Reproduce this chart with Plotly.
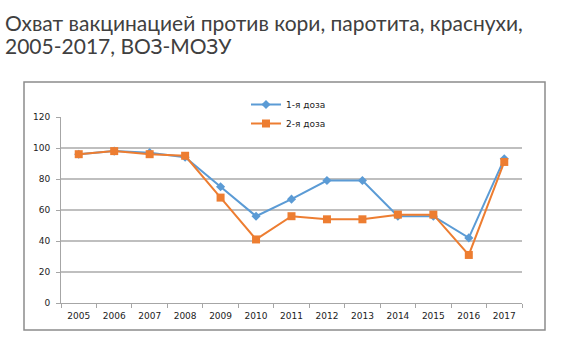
import plotly.graph_objects as go

years = ["2005", "2006", "2007", "2008", "2009", "2010", "2011",
         "2012", "2013", "2014", "2015", "2016", "2017"]
dose1 = [96, 98, 97, 94, 75, 56, 67, 79, 79, 56, 56, 42, 93]
dose2 = [96, 98, 96, 95, 68, 41, 56, 54, 54, 57, 57, 31, 91]
y_ticks = [0, 20, 40, 60, 80, 100, 120]
title_lines = ["Охват вакцинацией против кори, паротита, краснухи,",
               "2005-2017, ВОЗ-МОЗУ"]

W, H = 570, 348
L, R, T, B = 61, 48, 117, 45
pw, ph = W - L - R, H - T - B

def px_x(x):
    return (x - L) / pw

def px_y(y):
    return (H - B - y) / ph

fig = go.Figure()
fig.add_trace(go.Scatter(
    x=years, y=dose1, name="1-я доза", mode="lines+markers",
    line=dict(color="#5B9BD5", width=2),
    marker=dict(symbol="diamond", size=7, color="#5B9BD5"),
))
fig.add_trace(go.Scatter(
    x=years, y=dose2, name="2-я доза", mode="lines+markers",
    line=dict(color="#ED7D31", width=2),
    marker=dict(symbol="square", size=8, color="#ED7D31"),
))

# outer chart frame
fig.add_shape(type="rect", xref="paper", yref="paper",
              x0=px_x(24), x1=px_x(545), y0=px_y(330), y1=px_y(82),
              line=dict(color="#8C8C8C", width=1.5), layer="below")

# two-line heading
for i, line in enumerate(title_lines):
    fig.add_annotation(
        text=line, xref="paper", yref="paper", showarrow=False,
        x=px_x(3), y=px_y(22 + 24 * i), xanchor="left", yanchor="middle",
        font=dict(family="Lato", size=21, color="#404040"),
    )

fig.update_layout(
    width=W, height=H,
    margin=dict(l=L, r=R, t=T, b=B, pad=0),
    paper_bgcolor="white", plot_bgcolor="white",
    showlegend=True,
    legend=dict(
        x=px_x(246), y=px_y(90), xanchor="left", yanchor="top",
        bgcolor="rgba(0,0,0,0)", itemwidth=30, tracegroupgap=0,
        font=dict(family="DejaVu Sans", size=9, color="#222"),
    ),
    xaxis=dict(
        type="category", range=[-0.5, 12.5], tickson="boundaries",
        showgrid=False, showline=True, linecolor="#A6A6A6", linewidth=1,
        ticks="outside", ticklen=4, tickcolor="#A6A6A6",
        tickfont=dict(family="DejaVu Sans", size=9, color="#222"),
        ticklabelstandoff=4,
    ),
    yaxis=dict(
        range=[0, 120], tickvals=y_ticks, showgrid=True,
        gridcolor="#BFBFBF", gridwidth=1.5, zeroline=False,
        showline=True, linecolor="#A6A6A6", linewidth=1,
        ticks="outside", ticklen=4, tickcolor="#A6A6A6",
        tickfont=dict(family="DejaVu Sans", size=9, color="#222"),
        ticklabelstandoff=4,
    ),
)

fig.write_html("out.html")
